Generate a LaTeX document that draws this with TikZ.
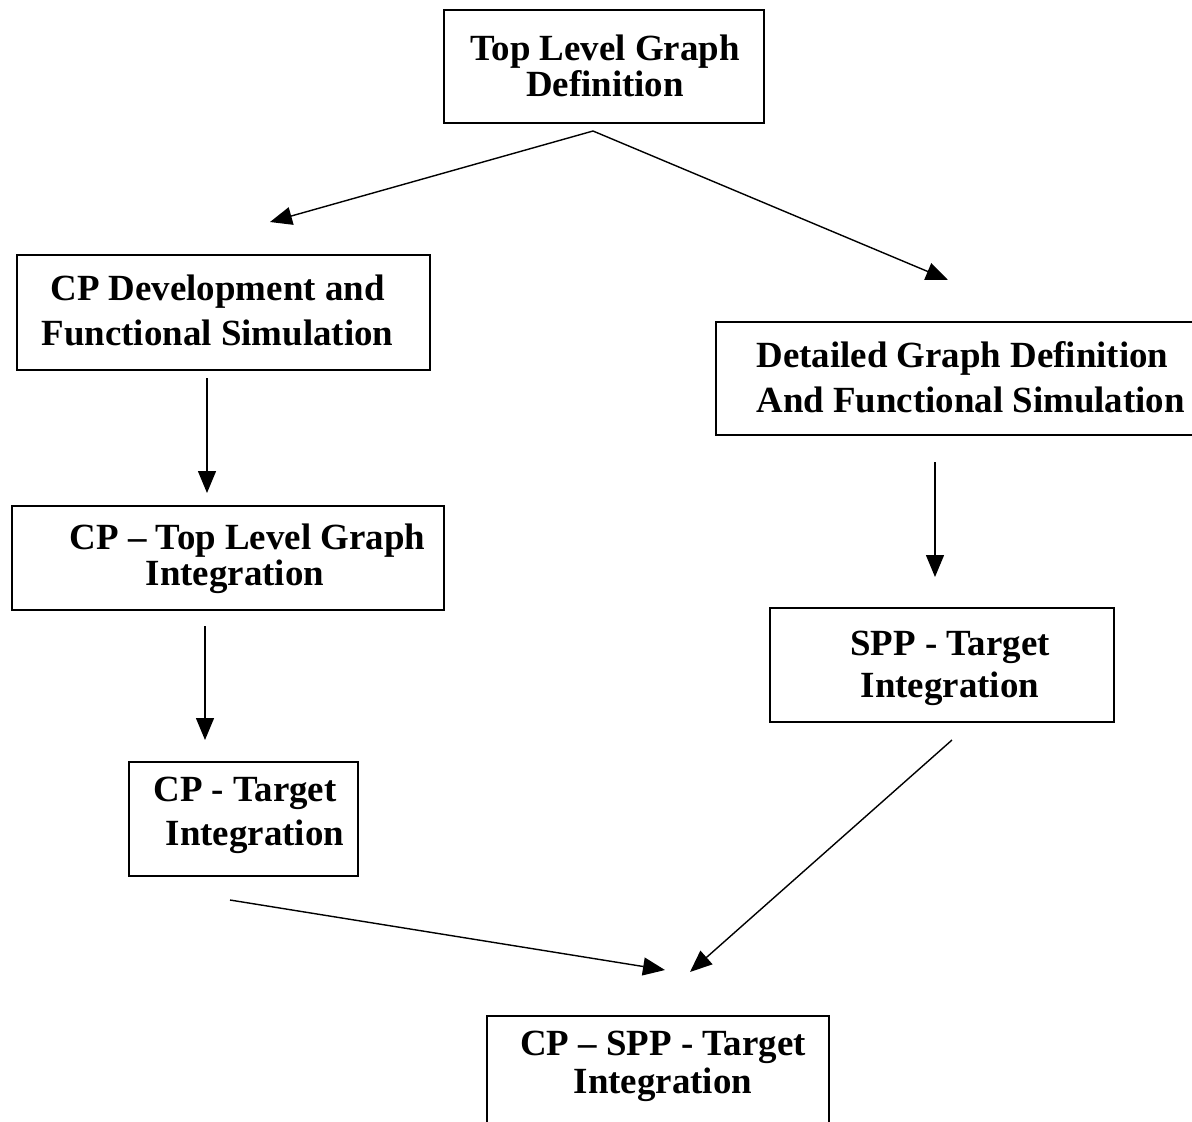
\documentclass[tikz,border=0pt]{standalone}
\usepackage{fontspec}
\setmainfont{Liberation Serif}
\usetikzlibrary{arrows.meta}
\tikzset{
  box/.style={draw=black, line width=1.1pt, rectangle, inner sep=0pt},
  lbl/.style={inner sep=0pt, align=center, font=\bfseries\fontsize{21}{#1}\selectfont},
  lbl/.default=20.5,
  conn/.style={draw=black, line width=0.8pt, -{Triangle[length=0.44cm,width=0.36cm]}}
}
\begin{document}
\begin{tikzpicture}
\useasboundingbox (0,0) rectangle (23.84,-22.42);
\clip (0,0) rectangle (23.84,-22.42);
% boxes
\node[box, minimum width=6.4cm, minimum height=2.26cm] (b1) at (12.08,-1.33) {};
\node[box, minimum width=8.26cm, minimum height=2.3cm] (b2) at (4.47,-6.25) {};
\node[box, minimum width=10.2cm, minimum height=2.26cm, anchor=west] (b3) at (14.3,-7.57) {};
\node[box, minimum width=8.64cm, minimum height=2.08cm] (b4) at (4.56,-11.16) {};
\node[box, minimum width=6.88cm, minimum height=2.28cm] (b5) at (18.84,-13.3) {};
\node[box, minimum width=4.58cm, minimum height=2.28cm] (b6) at (4.87,-16.38) {};
\node[box, minimum width=6.84cm, minimum height=2.6cm, anchor=north] (b7) at (13.16,-20.3) {};
% labels
\node[lbl=20.5] (t1) at (12.1,-1.32) {Top Level Graph\\Definition};
\node[lbl=25.6] (t2) at (4.35,-6.2) {CP Development and\\Functional Simulation};
\node[lbl=25.6, align=left, anchor=west] (t3) at (15.12,-7.55) {Detailed Graph Definition\\And Functional Simulation};
\node[lbl=20.5] (t4) at (4.7,-11.18) {\hspace*{0.5cm}CP -- Top Level Graph\\Integration};
\node[lbl=23.9] (t5) at (19.0,-13.36) {SPP - Target\\Integration};
\node[lbl=25] (t6) at (4.9,-16.3) {CP - Target\\\hspace*{0.4cm}Integration};
\node[lbl=21.6] (t7) at (13.26,-21.32) {CP -- SPP - Target\\Integration};
% connector end points
\coordinate (s1) at (11.86,-2.62);
\coordinate (e1) at (5.4,-4.44);
\coordinate (e2) at (18.96,-5.6);
\coordinate (s3) at (4.14,-7.56);
\coordinate (e3) at (4.14,-9.86);
\coordinate (s4) at (4.1,-12.52);
\coordinate (e4) at (4.1,-14.8);
\coordinate (s5) at (18.7,-9.24);
\coordinate (e5) at (18.7,-11.54);
\coordinate (s6) at (4.6,-18.0);
\coordinate (e6) at (13.3,-19.4);
\coordinate (s7) at (19.04,-14.8);
\coordinate (e7) at (13.8,-19.44);
% connectors
\draw[conn] (s1) -- (e1);
\draw[conn] (s1) -- (e2);
\draw[conn] (s3) -- (e3);
\draw[conn] (s4) -- (e4);
\draw[conn] (s5) -- (e5);
\draw[conn] (s6) -- (e6);
\draw[conn] (s7) -- (e7);
\end{tikzpicture}
\end{document}
